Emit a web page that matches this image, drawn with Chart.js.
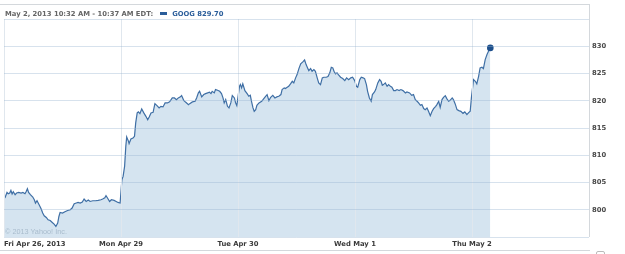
<!DOCTYPE html>
<html><head><meta charset="utf-8">
<script src="https://cdn.jsdelivr.net/npm/chart.js@4/dist/chart.umd.min.js"></script>
<style>
body{margin:0;background:#fff;}
#wrap{position:relative;width:625px;height:254px;overflow:hidden;font-family:"DejaVu Sans",sans-serif;}
#c{position:absolute;left:0;top:0;}
.hdr{position:absolute;top:8.5px;left:5px;font-size:6.8px;font-weight:bold;color:#666;white-space:nowrap;line-height:10px;}
.hdr .sym{color:#2a5d9a;}
.dash{position:absolute;left:160px;top:12px;width:7px;height:3px;background:#2a5d9a;}
.wm{position:absolute;left:5px;top:227px;font-family:"Liberation Sans",Arial,sans-serif;font-size:7.3px;color:#a9bccd;line-height:9px;white-space:nowrap;}
.ln{position:absolute;background:#d4d8dc;}
.icon{position:absolute;left:596px;top:251px;width:7px;height:6px;border:1px solid #bbb;border-radius:2px;}
</style></head>
<body>
<div id="wrap">
<canvas id="c" width="625" height="254"></canvas>
<div class="ln" style="left:0;top:4px;width:590px;height:1px;"></div>
<div class="ln" style="left:589px;top:4px;width:1px;height:233px;"></div>
<div class="ln" style="left:0;top:250px;width:590px;height:1px;"></div>
<div class="icon"></div>
<div class="hdr">May 2, 2013 10:32 AM - 10:37 AM EDT:<span style="display:inline-block;width:19px"></span><span class="sym">GOOG 829.70</span></div>
<div class="dash"></div>
<div class="wm">© 2013 Yahoo! Inc.</div>
</div>
<script>
// x values: trading minutes since Fri Apr 26 open (390 per day)
const dayStarts = [0, 390, 780, 1170, 1560, 1950];
const dayLabels = ['Fri Apr 26, 2013', 'Mon Apr 29', 'Tue Apr 30', 'Wed May 1', 'Thu May 2', ''];
const yTickValues = [800, 805, 810, 815, 820, 825, 830];

const friTimes = [3,10,14,19,23,27,31,37,42,49,57,63,70,74,78,82,88,96,101,105,110,114,120,124,129,134,141,147,154,161,167,173,179,183,187,195,203,212,221,227,234,241,247,254,261,267,274,281,287,296,305,314,323,329,336,340,345,352,358,367,374,380,387];
const friPrices = [802.15,803.18,802.94,803.07,803.55,802.88,803.31,802.76,803.07,803.18,803.07,803.18,802.94,803.36,803.86,803.18,802.76,802.33,801.84,801.23,801.65,801.23,800.61,800.13,799.39,798.90,798.59,798.16,798.03,797.67,797.37,796.93,797.56,798.77,799.50,799.39,799.63,799.87,800.00,800.31,801.10,801.23,801.34,801.23,801.41,801.97,801.52,801.78,801.52,801.65,801.65,801.71,801.84,801.97,802.20,802.57,802.15,801.52,801.84,801.71,801.52,801.34,801.23];

const monTimes = [393,397,402,406,409,415,417,423,430,435,439,444,448,453,459,466,473,479,484,490,497,503,510,517,523,530,537,545,552,561,568,575,581,588,592,599,606,615,619,628,637,642,648,652,659,666,672,679,685,690,694,701,705,712,719,725,730,734,739,745,750,756,761,768,772,776];
const monPrices = [805.51,806.12,807.96,811.63,813.36,812.55,812.13,812.99,813.17,813.47,815.93,817.77,817.95,817.64,818.50,817.77,817.14,816.53,817.03,817.77,817.88,819.47,819.11,818.68,818.98,818.87,819.60,819.60,819.79,820.52,820.52,820.21,820.52,820.71,820.94,820.08,819.71,819.29,819.47,819.79,819.90,820.52,821.44,821.73,820.71,821.13,821.31,821.44,821.55,821.31,821.73,821.44,822.05,821.92,821.73,821.31,820.52,819.60,820.21,818.98,818.68,819.60,820.94,820.52,819.60,819.11];

const tueTimes = [785,788,792,796,803,811,816,821,825,830,834,839,843,850,859,866,872,877,883,889,896,903,911,916,923,927,934,938,944,949,955,961,966,972,977,983,989,996,1002,1007,1012,1016,1022,1027,1033,1038,1044,1049,1055,1061,1066,1074,1080,1086,1091,1096,1100,1105,1110,1116,1122,1129,1136,1142,1149,1156,1162,1169];
const tuePrices = [822.65,822.97,822.36,823.09,821.86,821.26,820.82,821.00,819.90,818.68,818.06,818.37,819.16,819.60,819.90,820.39,820.82,821.13,820.03,820.63,821.00,820.52,820.76,820.82,821.13,822.05,822.36,822.23,822.47,822.65,823.09,823.57,823.28,824.20,824.80,825.90,826.77,827.14,827.50,826.64,826.03,825.54,825.90,825.41,825.72,825.41,824.20,823.28,822.97,824.20,824.31,824.31,824.44,825.12,826.14,826.03,825.41,824.93,825.12,824.68,824.31,824.07,823.70,824.20,823.88,824.20,824.31,823.70];

const wedTimes = [1175,1179,1186,1191,1197,1202,1208,1212,1218,1224,1228,1235,1239,1246,1252,1257,1261,1265,1271,1277,1282,1288,1293,1299,1305,1310,1317,1323,1330,1338,1343,1352,1359,1365,1371,1377,1382,1388,1393,1399,1404,1410,1415,1421,1427,1432,1439,1443,1449,1454,1460,1465,1471,1476,1482,1487,1494,1498,1504,1510,1516,1523,1530,1536,1543,1548,1554,1558];
const wedPrices = [822.65,822.47,823.88,824.31,824.20,824.07,822.97,821.73,820.52,819.90,821.13,821.62,822.05,823.28,823.88,823.57,822.84,822.97,823.28,822.65,822.97,822.65,822.47,821.86,821.86,822.05,821.86,822.05,821.86,821.44,821.62,821.44,821.00,821.13,820.21,819.90,819.60,819.16,819.29,818.56,818.37,818.68,818.06,817.27,818.06,818.56,818.98,819.29,819.90,818.79,820.21,820.63,820.94,820.39,819.90,820.08,820.52,820.21,819.42,818.37,818.19,818.06,817.69,817.95,817.45,817.77,818.06,820.52];

const thuTimes = [1565,1571,1576,1582,1587,1593,1598,1604,1610,1615,1621];
const thuPrices = [823.88,823.57,823.09,824.49,826.03,826.14,825.90,827.56,828.48,829.08,829.70];

const allTimes = [].concat(friTimes, monTimes, tueTimes, wedTimes, thuTimes);
const allPrices = [].concat(friPrices, monPrices, tuePrices, wedPrices, thuPrices);
const points = allTimes.map((t, i) => ({x: t, y: allPrices[i]}));
const lastIdx = points.length - 1;

const tickFont = {family: 'DejaVu Sans', size: 6.8, weight: 'bold'};

new Chart(document.getElementById('c'), {
  type: 'line',
  data: {
    datasets: [{
      data: points,
      borderColor: '#3f6fa5',
      borderWidth: 1.2,
      backgroundColor: '#d5e4f0',
      fill: 'start',
      tension: 0,
      pointRadius: ctx => ctx.dataIndex === lastIdx ? 3.3 : 0,
      pointBackgroundColor: '#1d4f8c',
      pointBorderColor: '#1d4f8c',
      pointBorderWidth: 0
    }]
  },
  options: {
    responsive: false,
    devicePixelRatio: 1,
    animation: false,
    events: [],
    layout: {padding: {top: 19, left: 3, right: 0, bottom: 0}},
    plugins: {legend: {display: false}, tooltip: {enabled: false}, title: {display: false}},
    scales: {
      x: {
        type: 'linear',
        position: 'bottom',
        min: 0,
        max: 1950,
        afterBuildTicks: s => { s.ticks = dayStarts.map(v => ({value: v})); },
        afterFit: s => { s.height = 17; },
        border: {display: false},
        grid: {color: '#e0e7ee', drawTicks: false, z: 1},
        ticks: {
          autoSkip: false,
          maxRotation: 0,
          align: 'inner',
          padding: 3,
          color: '#3a3a3a',
          font: tickFont,
          callback: v => dayLabels[dayStarts.indexOf(v)] || ''
        }
      },
      y: {
        position: 'right',
        min: 795,
        max: 835,
        afterFit: s => { s.width = 36; },
        border: {display: false},
        grid: {color: 'rgba(150,180,208,0.38)', drawTicks: false, z: 1},
        ticks: {
          stepSize: 5,
          padding: 3,
          color: '#4a4a4a',
          font: tickFont,
          callback: v => yTickValues.includes(v) ? String(v) : ''
        }
      }
    }
  }
});
</script>
</body></html>
